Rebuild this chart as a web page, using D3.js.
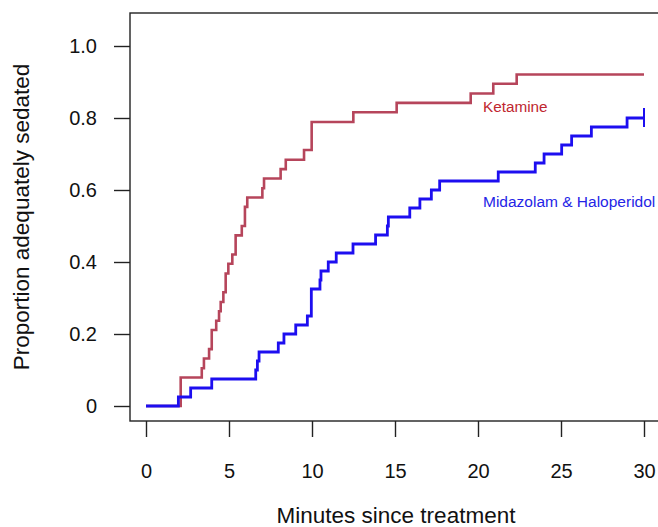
<!DOCTYPE html>
<html>
<head>
<meta charset="utf-8">
<script src="https://cdn.jsdelivr.net/npm/d3@7"></script>
<style>
  html, body { margin: 0; padding: 0; background: #fff; }
  svg text { font-family: "Liberation Sans", Arial, sans-serif; }
</style>
</head>
<body>
<svg id="chart" width="658" height="527"></svg>
<script>
// Kaplan-Meier style step data
var ketTimes = [0, 2.09, 3.36, 3.49, 3.80, 3.96, 4.23, 4.40, 4.50, 4.66, 4.80, 4.96, 5.20, 5.40, 5.77, 5.96, 6.10, 7.01, 7.11, 8.11, 8.42, 9.52, 9.98, 12.49, 15.1, 19.56, 20.92, 22.33, 30];
var ketProps = [0, 0.079, 0.105, 0.132, 0.158, 0.211, 0.237, 0.263, 0.289, 0.316, 0.368, 0.395, 0.421, 0.474, 0.5, 0.553, 0.579, 0.605, 0.632, 0.658, 0.684, 0.711, 0.789, 0.816, 0.842, 0.868, 0.895, 0.921, 0.921];

var midTimes = [0, 1.95, 2.69, 3.96, 6.61, 6.71, 6.81, 7.97, 8.31, 9.02, 9.72, 9.96, 10.48, 10.54, 10.98, 11.46, 12.47, 13.83, 14.54, 14.6, 15.89, 16.5, 17.19, 17.69, 21.22, 23.45, 23.98, 25.04, 25.64, 26.83, 28.98, 30];
var midProps = [0, 0.025, 0.05, 0.075, 0.1, 0.125, 0.15, 0.175, 0.2, 0.225, 0.25, 0.325, 0.35, 0.375, 0.4, 0.425, 0.45, 0.475, 0.5, 0.525, 0.55, 0.575, 0.6, 0.625, 0.65, 0.675, 0.7, 0.725, 0.75, 0.775, 0.8, 0.8];

var midCensor = [30];

var xTicks = [0, 5, 10, 15, 20, 25, 30];
var yTicks = [0, 0.2, 0.4, 0.6, 0.8, 1.0];

var svg = d3.select("#chart");

var x = d3.scaleLinear().domain([0, 30]).range([146, 644]);
var y = d3.scaleLinear().domain([0, 1]).range([406, 46]);

// box
svg.append("rect")
    .attr("x", 130).attr("y", 13)
    .attr("width", 534).attr("height", 408)
    .attr("fill", "none")
    .attr("stroke", "#222")
    .attr("stroke-width", 1.4);

var yAxis = svg.append("g")
    .attr("transform", "translate(130,0)")
    .call(d3.axisLeft(y)
        .tickValues(yTicks)
        .tickSize(16)
        .tickPadding(17)
        .tickFormat(function(d) { return d === 0 ? "0" : d.toFixed(1); }));

var xAxis = svg.append("g")
    .attr("transform", "translate(0,421)")
    .call(d3.axisBottom(x)
        .tickValues(xTicks)
        .tickSize(16)
        .tickPadding(27)
        .tickFormat(d3.format("d")));

[yAxis, xAxis].forEach(function(g) {
    g.select(".domain").remove();
    g.selectAll(".tick line").attr("stroke", "#222").attr("stroke-width", 1.4);
    g.selectAll(".tick text")
        .attr("fill", "#111")
        .style("font-size", "20px")
        .style("font-family", "'Liberation Sans', Arial, sans-serif");
});

// axis titles
svg.append("text")
    .attr("x", 396).attr("y", 523)
    .attr("text-anchor", "middle")
    .attr("fill", "#111")
    .style("font-size", "22.5px")
    .text("Minutes since treatment");

svg.append("text")
    .attr("transform", "translate(29,217) rotate(-90)")
    .attr("text-anchor", "middle")
    .attr("fill", "#111")
    .style("font-size", "22.5px")
    .text("Proportion adequately sedated");

var line = d3.line()
    .x(function(d) { return x(d[0]); })
    .y(function(d) { return y(d[1]); })
    .curve(d3.curveStepAfter);

svg.append("path")
    .datum(d3.zip(ketTimes, ketProps))
    .attr("d", line)
    .attr("fill", "none")
    .attr("stroke", "#b6455b")
    .attr("stroke-width", 2.6);

svg.append("path")
    .datum(d3.zip(midTimes, midProps))
    .attr("d", line)
    .attr("fill", "none")
    .attr("stroke", "#1d0ef0")
    .attr("stroke-width", 2.8);

// censor marks
svg.selectAll("line.censor")
    .data(midCensor)
    .enter()
    .append("line")
    .attr("class", "censor")
    .attr("x1", function(d) { return x(d); })
    .attr("x2", function(d) { return x(d); })
    .attr("y1", y(0.8) - 10)
    .attr("y2", y(0.8) + 9)
    .attr("stroke", "#1d0ef0")
    .attr("stroke-width", 2);

// curve labels
svg.append("text")
    .attr("x", x(20.3)).attr("y", y(0.817))
    .attr("fill", "#c0262f")
    .style("font-size", "15.3px")
    .text("Ketamine");

svg.append("text")
    .attr("x", x(20.3)).attr("y", y(0.554))
    .attr("fill", "#2424e6")
    .style("font-size", "15.5px")
    .text("Midazolam & Haloperidol");
</script>
</body>
</html>
